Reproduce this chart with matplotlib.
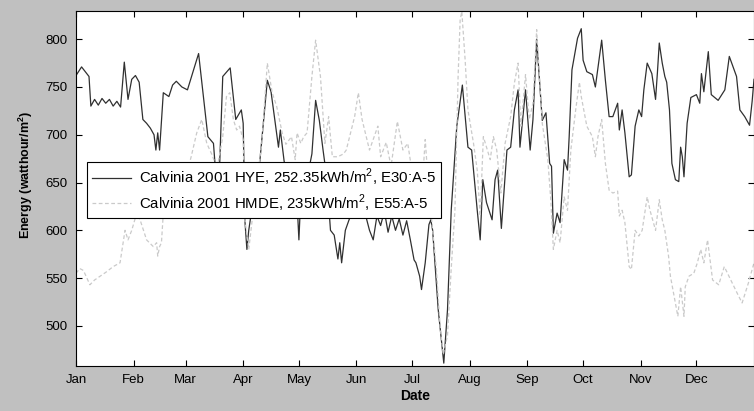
import numpy as np
import matplotlib
matplotlib.use('Agg')
import matplotlib.pyplot as plt

# day of year (0 = 1 Jan) and daily energy
hye_days = [0, 3, 7, 8, 10, 12, 14, 16, 18, 20, 22, 24, 26, 28, 30, 32, 34, 36, 38, 40,
            42, 43, 44, 45, 47, 50, 52, 54, 57, 60, 63, 66, 68, 71, 74, 76, 77, 79, 83, 86,
            89, 90, 91, 92, 93, 96, 99, 103, 105, 109, 110, 112, 114, 117, 119, 120, 121, 124, 127, 129,
            131, 133, 135, 137, 139, 141, 142, 143, 145, 147, 150, 153, 156, 158, 160, 162, 164, 166, 168, 170,
            172, 174, 176, 178, 180, 182, 183, 185, 186, 188, 190, 191, 192, 193, 195, 198, 200, 202, 205, 208,
            209.5, 211, 213, 216, 217.6, 219, 221, 224, 225.6, 227, 229, 232, 234, 236, 238, 239, 242, 244.5, 246, 248,
            251, 253, 255, 256, 257, 259, 260.6, 262.8, 264.6, 265.5, 267, 270, 272, 273, 275, 278, 279.6, 283, 285, 287,
            289, 291.6, 292.5, 294, 295.5, 297.8, 299, 301, 303, 304.5, 305.7, 307.5, 310, 312, 313, 314, 315.6, 317, 318, 319.5,
            320.8, 322.7, 324.5, 325.5, 326.4, 327.3, 329, 331, 334, 335.8, 336.7, 338, 340.4, 342, 345.7, 349.3, 351.7, 355.6, 357.4, 360,
            362.6, 364, 365]
hye_vals = [762, 771, 761, 730, 737, 731, 738, 733, 737, 730, 735, 729, 776, 737, 758, 762, 755, 716, 712, 707,
            700, 684, 702, 684, 744, 740, 752, 756, 750, 747, 766, 785, 750, 698, 691, 640, 650, 761, 770, 716,
            726, 712, 608, 580, 600, 640, 673, 757, 745, 687, 705, 673, 650, 640, 630, 590, 635, 650, 680, 736,
            715, 684, 655, 600, 595, 570, 587, 566, 600, 611, 625, 640, 615, 600, 590, 615, 605, 620, 598, 615,
            600, 612, 595, 610, 590, 569, 566, 552, 538, 566, 606, 611, 600, 572, 517, 461, 517, 621, 709, 752,
            719, 687, 684, 621, 590, 653, 629, 611, 653, 663, 602, 684, 687, 726, 747, 687, 747, 684, 716, 800,
            715, 723, 670, 667, 597, 618, 608, 674, 663, 698, 768, 801, 811, 778, 766, 763, 750, 799, 757, 719,
            719, 733, 705, 726, 702, 656, 658, 709, 726, 719, 747, 775, 764, 737, 765, 796, 775, 761, 755, 726,
            670, 653, 651, 687, 677, 656, 712, 739, 742, 733, 764, 745, 787, 742, 736, 747, 782, 761, 726, 719,
            710, 735, 758]

hmde_days = [0, 2, 4, 7.5, 10, 13, 16, 20, 23.7, 26.4, 28, 30, 32.7, 34.5, 38, 41.6, 43.4, 44, 45, 46,
             47, 50, 53, 56, 59, 62, 65, 67.7, 70.4, 73, 76, 79, 81, 82.8, 84.7, 86.5, 88, 90, 91, 93,
             96, 100, 103, 105.6, 108, 111, 113, 116, 118, 119, 121, 122.6, 124.4, 127, 129, 131.6, 134, 136, 138, 141,
             144, 145.5, 150, 152, 154, 158, 162.5, 164, 167, 169.6, 173, 176, 178.6, 181, 183, 185, 186.5, 188, 190, 192,
             194, 196, 197.7, 200, 202, 204, 205.7, 206.8, 207.7, 209.5, 211, 214, 216, 217.6, 219.3, 221, 223, 224.7, 226.5, 228.7,
             231, 234, 236, 238, 239.5, 242, 244, 246, 248, 251, 254, 255.6, 257, 259, 260.6, 262.8, 264.6, 266.4, 269, 271,
             272, 275, 278, 279.6, 281, 283, 285, 287, 289, 291.6, 292.5, 294, 295.5, 297.8, 299, 301, 303, 304.8, 307.5, 309,
             312, 314, 315.6, 317, 319, 320, 322, 324, 325.5, 327.3, 328, 330, 332.6, 334.5, 336.3, 338, 340, 342.7, 346, 349,
             351.5, 356, 358.6, 362, 365]
hmde_vals = [555, 560, 558, 543, 548, 552, 556, 562, 566, 600, 590, 600, 618, 611, 590, 583, 587, 573, 583, 587,
             618, 640, 650, 640, 655, 677, 702, 716, 691, 680, 665, 698, 740, 744, 716, 705, 709, 695, 610, 580,
             630, 691, 775, 744, 730, 702, 690, 698, 674, 702, 691, 698, 702, 761, 799, 761, 691, 719, 677, 677,
             680, 684, 719, 744, 716, 684, 709, 677, 692, 667, 714, 684, 691, 660, 640, 620, 650, 695, 640, 600,
             560, 500, 470, 490, 560, 621, 761, 820, 829, 778, 726, 691, 663, 615, 698, 687, 674, 698, 684, 639,
             691, 719, 754, 775, 709, 763, 716, 733, 810, 712, 674, 632, 580, 600, 587, 635, 621, 684, 726, 755,
             740, 709, 698, 677, 698, 716, 670, 642, 639, 641, 615, 621, 608, 562, 559, 600, 594, 600, 635, 621,
             600, 632, 611, 600, 573, 552, 531, 510, 541, 510, 541, 552, 555, 566, 580, 566, 590, 548, 543, 562,
             552, 534, 524, 545, 566]

month_starts = [0, 31, 59, 90, 120, 151, 181, 212, 243, 273, 304, 334]
month_labels = ['Jan', 'Feb', 'Mar', 'Apr', 'May', 'Jun', 'Jul', 'Aug', 'Sep', 'Oct', 'Nov', 'Dec']
y_ticks = [500, 550, 600, 650, 700, 750, 800]

legend_labels = ['Calvinia 2001 HYE, 252.35kWh/m$^2$, E30:A-5',
                 'Calvinia 2001 HMDE, 235kWh/m$^2$, E55:A-5']

plt.rcParams['font.family'] = ['Liberation Sans', 'DejaVu Sans']
plt.rcParams['mathtext.fontset'] = 'custom'
plt.rcParams['mathtext.rm'] = 'Liberation Sans'
plt.rcParams['mathtext.bf'] = 'Liberation Sans:bold'

fig = plt.figure(figsize=(7.54, 4.11), dpi=100, facecolor='#c0c0c0')
ax = fig.add_axes([76 / 754, 45 / 411, 678 / 754, 354.5 / 411])
ax.set_facecolor('white')

ax.plot(hye_days, hye_vals, color='#303030', linewidth=0.9, linestyle='-', label=legend_labels[0])
ax.plot(hmde_days, hmde_vals, color='#cacaca', linewidth=0.9, linestyle=(0, (3, 2)), label=legend_labels[1])

ax.set_xlim(0, 365)
ax.set_ylim(458, 829)
ax.set_xticks(month_starts)
ax.set_xticklabels(month_labels)
ax.set_yticks(y_ticks)
ax.tick_params(direction='in', length=4, width=0.8, top=True, right=True,
               labelsize=9.5, pad=6, colors='black')
for s in ax.spines.values():
    s.set_linewidth(0.8)
    s.set_color('black')

ax.set_xlabel('Date', fontsize=10, fontweight='bold', labelpad=2)
ax.set_ylabel('Energy (watthour/m$^\\mathbf{2}$)', fontsize=9, fontweight='bold')
ax.yaxis.set_label_coords(-41 / 678, (366 - 175) / 354.5)

leg = ax.legend(loc='upper left', bbox_to_anchor=(11 / 678, (366 - 162) / 354.5),
                borderaxespad=0, fontsize=10.8, handlelength=2.6, handletextpad=0.55,
                fancybox=False, framealpha=1, edgecolor='black',
                borderpad=0.32, labelspacing=0.28)
leg.get_frame().set_linewidth(0.8)

fig.savefig('out.png', dpi=100, facecolor=fig.get_facecolor())
